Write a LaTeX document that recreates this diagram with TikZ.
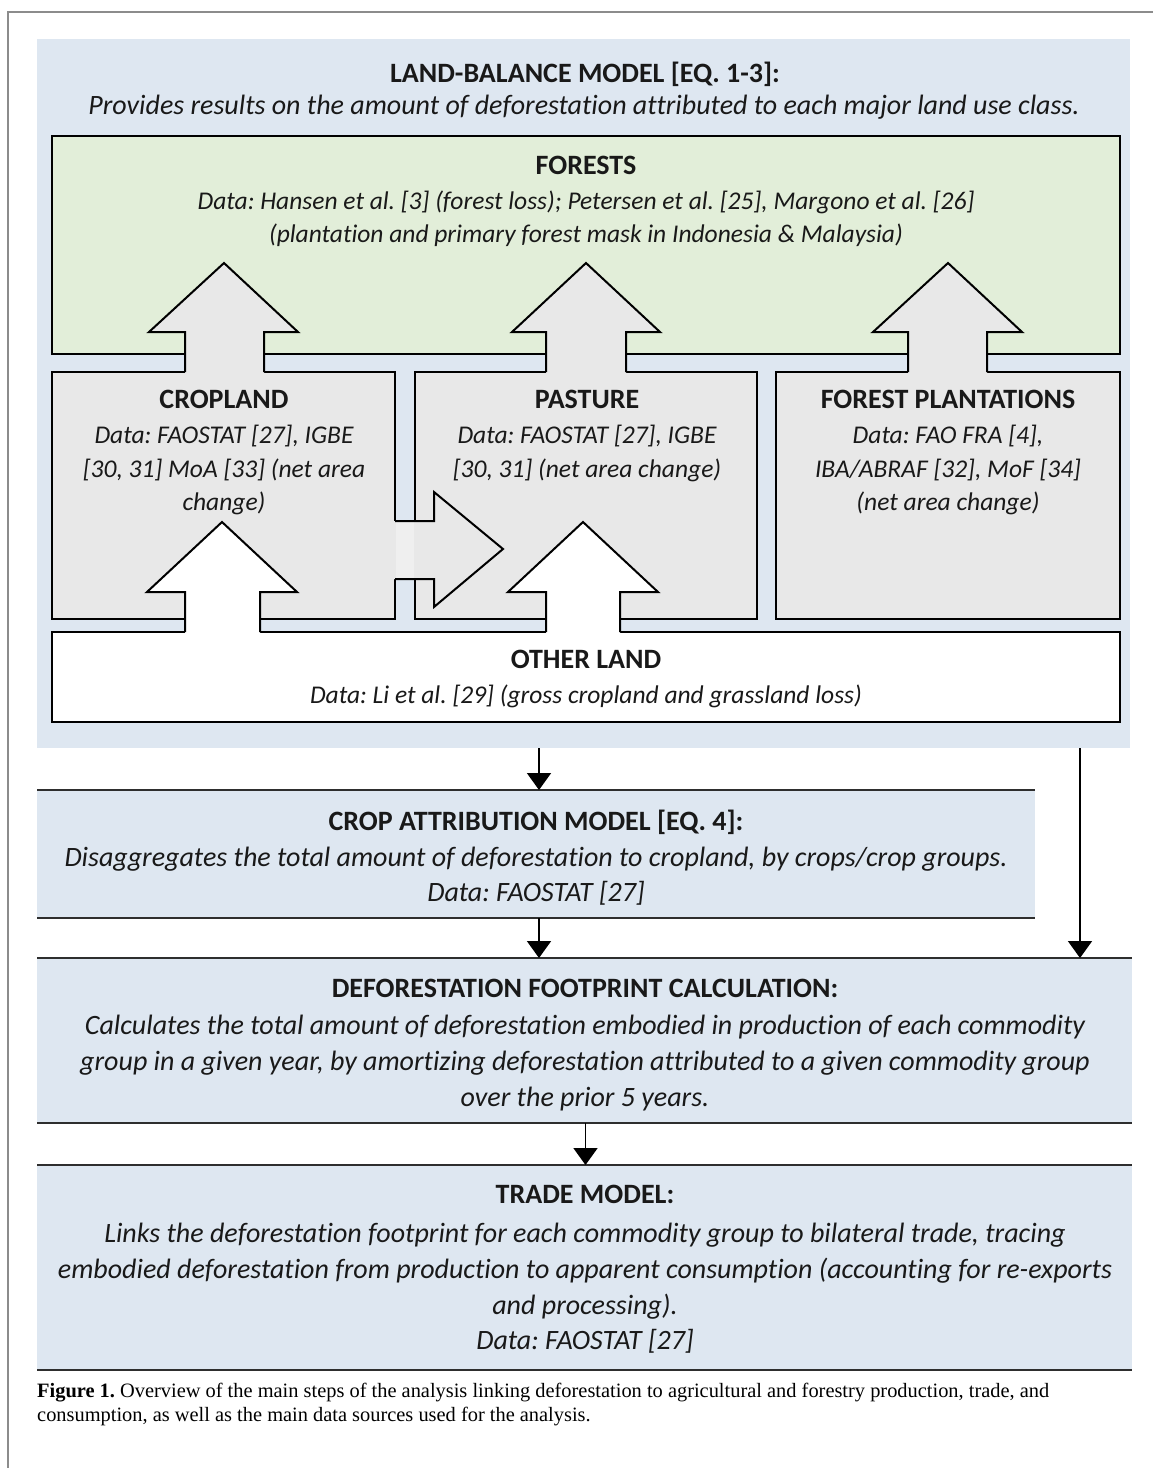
\documentclass[tikz,border=0pt]{standalone}
\usepackage{fontspec}
\setmainfont[Ligatures={NoCommon}]{Carlito}
\newfontfamily\capfont{Liberation Serif}
\usetikzlibrary{arrows.meta}
\frenchspacing
\definecolor{bgblue}{HTML}{DEE7F1}
\definecolor{forestgreen}{HTML}{E2EED9}
\definecolor{boxgray}{HTML}{E8E8E8}
\definecolor{framegray}{HTML}{8C8C8C}
\definecolor{barline}{HTML}{2E2E2E}
\tikzset{
  ttl/.style={font=\bfseries\fontsize{28}{34}\selectfont, inner sep=0pt, anchor=base, text=black!90},
  txt/.style={font=\itshape\fontsize{28}{34}\selectfont, inner sep=0pt, anchor=base, text=black!90},
  dtxt/.style={font=\itshape\fontsize{25.5}{32}\selectfont, inner sep=0pt, anchor=base, text=black!90},
  captext/.style={font=\capfont\fontsize{20.4}{24}\selectfont, inner sep=0pt, anchor=base west},
  area/.style={inner sep=0pt, outer sep=0pt, anchor=north west},
  landbox/.style={area, draw=black, line width=2pt},
  blockline/.style={draw=black, line width=2pt, line join=miter},
  bar/.style={draw=barline, line width=2.6pt},
  thinarr/.style={draw=black, line width=1.8pt, -{Triangle[width=24pt,length=17pt]}},
}
\begin{document}
\begin{tikzpicture}[x=1pt,y=-1pt]
\useasboundingbox (0,0) rectangle (1153,1468);
% frame
\draw[framegray, line width=1.2pt] (8,1468) -- (8,12) -- (1153,12);

% land-balance background
\node[area, fill=bgblue, minimum width=1093pt, minimum height=709pt] (lbm) at (37,39) {};
\node[ttl] (lbmt) at (585,82) {LAND-BALANCE MODEL [EQ. 1-3]:};
\node[txt] (lbmd) at (584,114) {Provides results on the amount of deforestation attributed to each major land use class.};

% forests
\node[landbox, fill=forestgreen, minimum width=1068pt, minimum height=218pt] (forest) at (52,136) {};
\node[ttl] (forestt) at (586,174) {FORESTS};
\node[dtxt] (forestd1) at (586,209) {Data: Hansen et al. [3] (forest loss); Petersen et al. [25], Margono et al. [26]};
\node[dtxt] (forestd2) at (586,242) {(plantation and primary forest mask in Indonesia \& Malaysia)};

% cropland, pasture, forest plantations
\node[landbox, fill=boxgray, minimum width=343pt, minimum height=247pt] (crop) at (52,372) {};
\node[landbox, fill=boxgray, minimum width=342pt, minimum height=247pt] (past) at (415,372) {};
\node[landbox, fill=boxgray, minimum width=344pt, minimum height=247pt] (fplant) at (776,372) {};

% other land
\node[landbox, fill=white, minimum width=1068pt, minimum height=90pt] (other) at (52,632) {};

% block arrows: cropland/pasture/plantations -> forests
\foreach \sl/\sr/\hl/\hr/\ax in {185/264/149/298/224, 546/626/512/660/586, 908/987/873/1022/948}{
  \fill[boxgray] (\sl,374) -- (\sl,332) -- (\hl,332) -- (\ax,263) -- (\hr,332) -- (\sr,332) -- (\sr,374) -- cycle;
  \draw[blockline] (\sl,372) -- (\sl,332) -- (\hl,332) -- (\ax,263) -- (\hr,332) -- (\sr,332) -- (\sr,372);
}
% block arrows: other land -> cropland/pasture
\foreach \sl/\sr/\hl/\hr/\ax in {185/260/147/297/222, 546/620/508/658/583}{
  \fill[white] (\sl,634) -- (\sl,592) -- (\hl,592) -- (\ax,522) -- (\hr,592) -- (\sr,592) -- (\sr,634) -- cycle;
  \draw[blockline] (\sl,632) -- (\sl,592) -- (\hl,592) -- (\ax,522) -- (\hr,592) -- (\sr,592) -- (\sr,632);
}
% block arrow: cropland -> pasture
\fill[boxgray] (393,521) -- (434,521) -- (434,492) -- (503,549) -- (434,607) -- (434,579) -- (393,579) -- cycle;
\fill[boxgray!70!white] (396,522) rectangle (414,578);
\draw[blockline] (395,521) -- (434,521) -- (434,492) -- (503,549) -- (434,607) -- (434,579) -- (395,579);

% texts of land classes
\node[ttl] (cropt) at (224,408) {CROPLAND};
\node[dtxt] (cropd1) at (224,443) {Data: FAOSTAT [27], IGBE};
\node[dtxt] (cropd2) at (224,477) {[30, 31] MoA [33] (net area};
\node[dtxt] (cropd3) at (224,510) {change)};
\node[ttl] (pastt) at (587,408) {PASTURE};
\node[dtxt] (pastd1) at (587,443) {Data: FAOSTAT [27], IGBE};
\node[dtxt] (pastd2) at (587,477) {[30, 31] (net area change)};
\node[ttl] (fplantt) at (948,408) {FOREST PLANTATIONS};
\node[dtxt] (fplantd1) at (948,443) {Data: FAO FRA [4],};
\node[dtxt] (fplantd2) at (948,477) {IBA/ABRAF [32], MoF [34]};
\node[dtxt] (fplantd3) at (948,510) {(net area change)};
\node[ttl] (othert) at (586,668) {OTHER LAND};
\node[dtxt] (otherd) at (586,703) {Data: Li et al. [29] (gross cropland and grassland loss)};

% crop attribution model
\node[area, fill=bgblue, minimum width=998pt, minimum height=128pt] (cam) at (37,790) {};
\draw[bar] (cam.north west) -- (cam.north east);
\draw[bar] (cam.south west) -- (cam.south east);
\node[ttl] (camt) at (536,830) {CROP ATTRIBUTION MODEL [EQ. 4]:};
\node[txt] (camd1) at (536,866) {Disaggregates the total amount of deforestation to cropland, by crops/crop groups.};
\node[txt] (camd2) at (536,901) {Data: FAOSTAT [27]};

% deforestation footprint calculation
\node[area, fill=bgblue, minimum width=1095pt, minimum height=165pt] (dfc) at (37,958) {};
\draw[bar] (dfc.north west) -- (dfc.north east);
\draw[bar] (dfc.south west) -- (dfc.south east);
\node[ttl] (dfct) at (585,997) {DEFORESTATION FOOTPRINT CALCULATION:};
\node[txt] (dfcd1) at (585,1034) {Calculates the total amount of deforestation embodied in production of each commodity};
\node[txt] (dfcd2) at (585,1070) {group in a given year, by amortizing deforestation attributed to a given commodity group};
\node[txt] (dfcd3) at (585,1106) {over the prior 5 years.};

% trade model
\node[area, fill=bgblue, minimum width=1095pt, minimum height=205pt] (trade) at (37,1165) {};
\draw[bar] (trade.north west) -- (trade.north east);
\draw[bar] (trade.south west) -- (trade.south east);
\node[ttl] (tradet) at (585,1203) {TRADE MODEL:};
\node[txt] (traded1) at (585,1242) {Links the deforestation footprint for each commodity group to bilateral trade, tracing};
\node[txt] (traded2) at (585,1278) {embodied deforestation from production to apparent consumption (accounting for re-exports};
\node[txt] (traded3) at (585,1314) {and processing).};
\node[txt] (traded4) at (585,1349) {Data: FAOSTAT [27]};

% connectors
\coordinate (rtop) at ([xshift=-50pt]lbm.south east);
\draw[thinarr] ([xshift=3pt]cam.north |- lbm.south) -- ([xshift=3pt]cam.north);
\draw[thinarr] (rtop) -- (rtop |- dfc.north);
\draw[thinarr] ([xshift=3pt]cam.south) -- ([xshift=3pt]cam.south |- dfc.north);
\draw[thinarr] ([xshift=1pt]dfc.south) -- ([xshift=1pt]trade.north);

% caption
\node[captext] (cap1) at (37,1397) {\textbf{Figure 1.} Overview of the main steps of the analysis linking deforestation to agricultural and forestry production, trade, and};
\node[captext] (cap2) at (37,1421) {consumption, as well as the main data sources used for the analysis.};
\end{tikzpicture}
\end{document}
